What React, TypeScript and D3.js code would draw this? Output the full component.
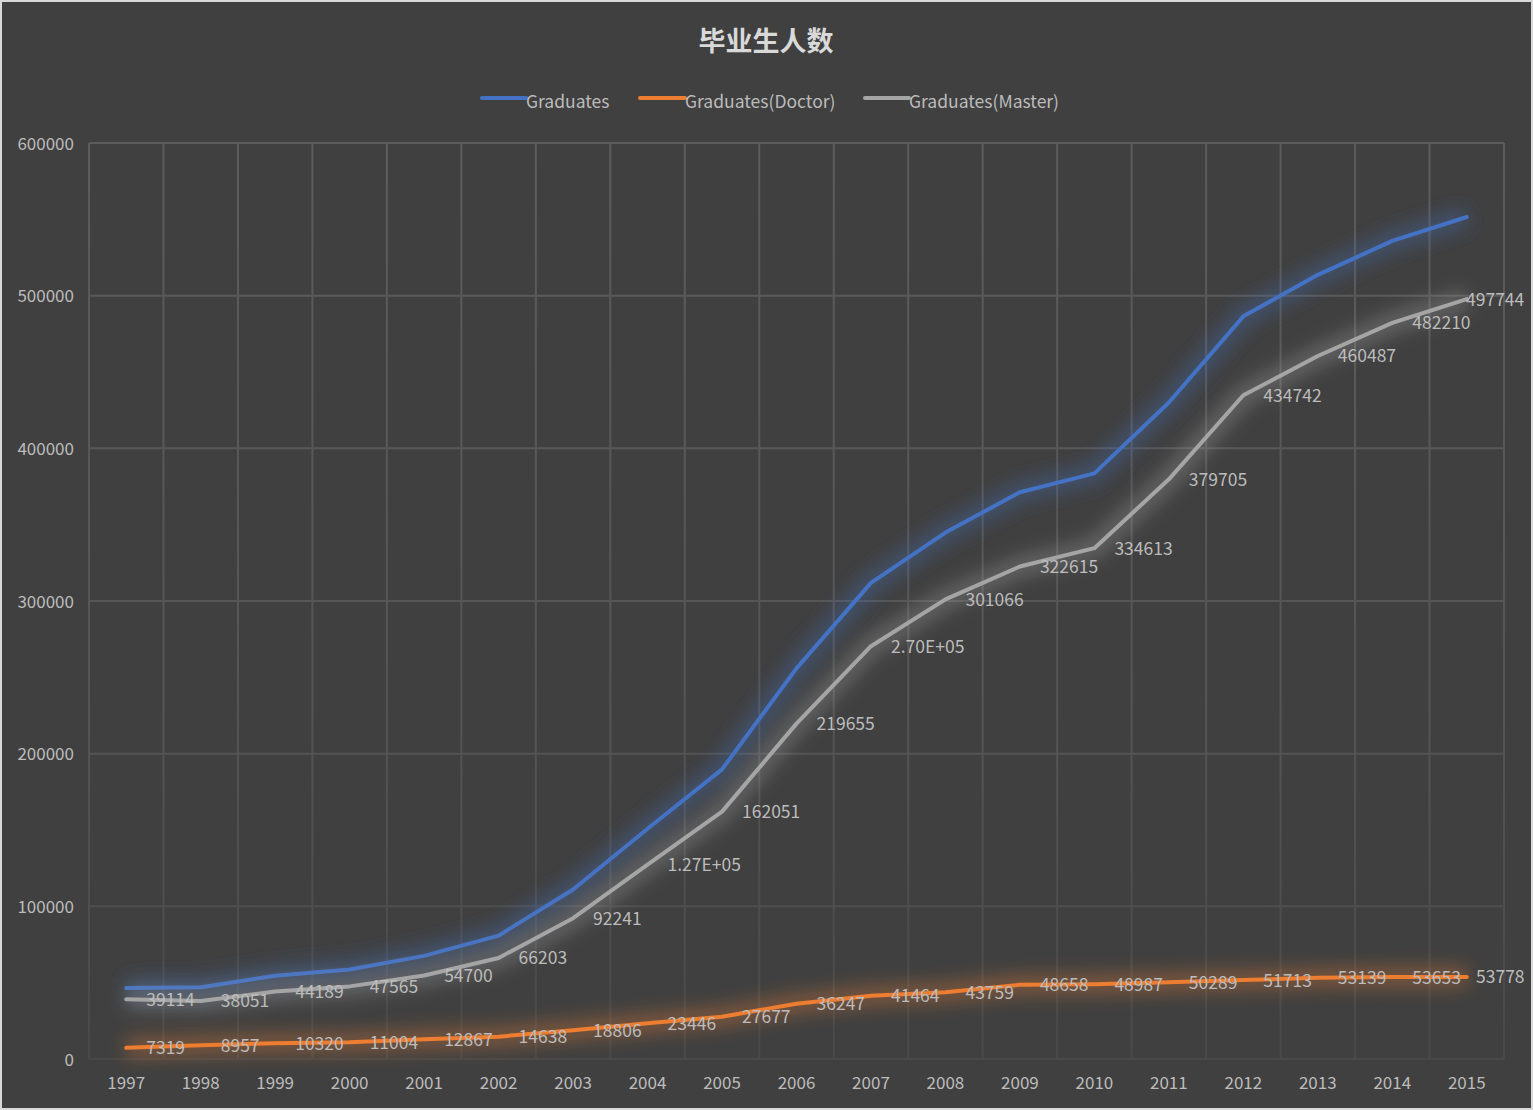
import React from "react";
import * as d3 from "d3";

const years = ["1997","1998","1999","2000","2001","2002","2003","2004","2005","2006","2007","2008","2009","2010","2011","2012","2013","2014","2015"];
const graduates = [46433,47008,54509,58569,67567,80841,111047,150778,189728,255902,311839,344825,371273,383600,429994,486455,513626,535863,551522];
const doctor = [7319,8957,10320,11004,12867,14638,18806,23446,27677,36247,41464,43759,48658,48987,50289,51713,53139,53653,53778];
const master = [39114,38051,44189,47565,54700,66203,92241,127332,162051,219655,270375,301066,322615,334613,379705,434742,460487,482210,497744];
const doctorLabels = doctor.map(String);
const masterLabels = master.map((v, i) => (i === 7 ? "1.27E+05" : i === 10 ? "2.70E+05" : String(v)));
const yTicks = [0,100000,200000,300000,400000,500000,600000];

const W = 1533, H = 1110;
const M = { left: 89, right: 1504, top: 143, bottom: 1059 };
const FONT = "'Noto Sans CJK SC', 'Noto Sans', sans-serif";
const TXT = "#bcbcbc";

const series = [
  { name: "Graduates", values: graduates, color: "#4472C4", labels: null as string[] | null },
  { name: "Graduates(Doctor)", values: doctor, color: "#ED7D31", labels: doctorLabels },
  { name: "Graduates(Master)", values: master, color: "#A5A5A5", labels: masterLabels },
];

export default function App() {
  const x = d3.scaleBand<string>().domain(years).range([M.left, M.right]).paddingInner(0).paddingOuter(0);
  const y = d3.scaleLinear().domain([0, 600000]).range([M.bottom, M.top]);
  const cx = (i: number) => (x(years[i]) as number) + x.bandwidth() / 2;
  const line = d3.line<number>().x((_, i) => cx(i)).y((d) => y(d));
  const boundaries = years.map((yr) => x(yr) as number).concat([M.right]);

  const legendItems = [
    { x0: 482, tx: 526 },
    { x0: 640, tx: 685 },
    { x0: 865, tx: 909 },
  ];

  return (
    <svg width={W} height={H} style={{ position: "absolute", left: 0, top: 0, display: "block" }}>
      <defs>
        <linearGradient id="gridGrad" gradientUnits="userSpaceOnUse" x1="0" y1={M.top} x2="0" y2={M.bottom}>
          <stop offset="0" stopColor="#5c5c5c" />
          <stop offset="0.6" stopColor="#555555" />
          <stop offset="1" stopColor="#494949" />
        </linearGradient>
        <filter id="glow" x="-20%" y="-50%" width="140%" height="200%">
          <feGaussianBlur stdDeviation="9" />
        </filter>
      </defs>
      <rect x={0} y={0} width={W} height={H} fill="#d9d9d9" />
      <rect x={2} y={2} width={W - 4} height={H - 4} fill="#404040" />

      <text x={766} y={39} textAnchor="middle" dominantBaseline="central" fill="#d9d9d9" fontFamily={FONT} fontSize={27} fontWeight="bold">毕业生人数</text>

      {series.map((s, k) => (
        <g key={s.name}>
          <line x1={legendItems[k].x0} x2={legendItems[k].tx} y1={98} y2={98} stroke={s.color} strokeWidth={4} strokeLinecap="round" />
          <text x={legendItems[k].tx} y={100} dominantBaseline="central" fill={TXT} fontFamily={FONT} fontSize={17.5}>{s.name}</text>
        </g>
      ))}

      <g>
        {yTicks.map((t) => (
          <line key={t} x1={M.left} x2={M.right} y1={y(t)} y2={y(t)} stroke="url(#gridGrad)" strokeWidth={2} />
        ))}
        {boundaries.map((bx, i) => (
          <rect key={i} x={bx - 1} y={M.top} width={2} height={M.bottom - M.top} fill="url(#gridGrad)" />
        ))}
      </g>

      {yTicks.map((t) => (
        <text key={t} x={74} y={y(t) - 1} textAnchor="end" dominantBaseline="central" fill={TXT} fontFamily={FONT} fontSize={17}>{t}</text>
      ))}
      {years.map((yr, i) => (
        <text key={yr} x={cx(i)} y={1081} textAnchor="middle" dominantBaseline="central" fill={TXT} fontFamily={FONT} fontSize={17}>{yr}</text>
      ))}

      {series.map((s) => (
        <g key={s.name}>
          <path d={line(s.values) || ""} fill="none" stroke={s.color} strokeWidth={20} strokeOpacity={0.35} strokeLinejoin="round" filter="url(#glow)" />
          <path d={line(s.values) || ""} fill="none" stroke={s.color} strokeWidth={4} strokeLinejoin="round" strokeLinecap="round" />
        </g>
      ))}

      {series.map((s) =>
        s.labels ? (
          <g key={s.name + "lbl"}>
            {s.labels.map((lb, i) => {
              const estW = lb.length * 10;
              let lx = cx(i) + 20;
              if (lx + estW > 1526) lx = 1526 - estW;
              return (
                <text key={i} x={lx} y={y(s.values[i]) - 1} dominantBaseline="central" fill={TXT} fontFamily={FONT} fontSize={17.5}>{lb}</text>
              );
            })}
          </g>
        ) : null
      )}
    </svg>
  );
}
